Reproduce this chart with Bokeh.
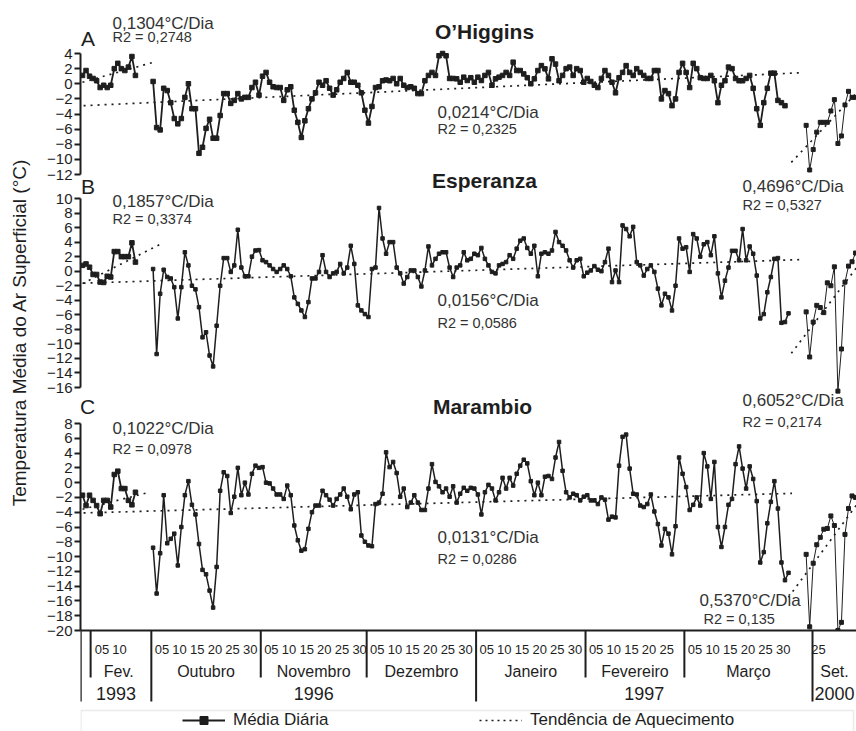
from bokeh.plotting import figure
from bokeh.models import (Range1d, LinearAxis, FixedTicker, Label, GridBox,
                          Legend, LegendItem, BoxAnnotation)
from bokeh.embed import file_html
from bokeh.resources import INLINE
from bokeh.core.properties import value

# ------------------------------------------------------------------ data
stations = ["O\u2019Higgins", "Esperanza", "Marambio"]
panel_letters = ["A", "B", "C"]

# day slots: 0..15 -> end Jan / Feb 1993 ; 20.. -> 1 Oct 1996 ... Mar 1997 ; 205..219 -> Sep/Oct 2000
first_slot_1993 = 0
first_slot_9697 = 20
first_slot_2000 = 205

ohiggins_1993 = [1.1, 1.75, 1.0, 0.7, 0.4, -0.5, -0.2, -0.5, -0.2, 2.0, 2.7, 2.0, 1.75, 2.2, 3.6, 1.1]
ohiggins_9697 = [
    0.3, -5.8, -6.1, -0.6, -0.9, -2.5, -4.6, -5.3, -4.6, -1.8, 0.0, -3.3, -3.3, -9.2, -8.4, -5.9,
    -4.7, -7.2, -7.2, -4.2, -1.3, -1.3, -2.6, -2.2, -1.3, -2.0, -1.8, -1.8, -0.5, 0.2, -1.5,
    1.0, 1.5, 0.2, -0.4, -0.5, -0.5, -2.2, -0.8, -0.4, -3.5, -5.1, -7.1, -4.9, -3.3, -2.0, -1.2,
    0.2, -0.2, 0.4, -0.6, -1.5, -0.8, 0.2, 0.7, 1.5, 0.2, 0.2, -0.2, -1.2, -3.5,
    -5.2, -3.0, -0.5, -0.4, 0.4, 0.5, 0.4, 0.7, 0.0, 0.7, -0.2, -0.5, -0.4, -0.6, -1.3, -1.3,
    0.4, 1.1, 1.5, 1.1, 3.7, 4.0, 3.7, 0.7, 0.7,
    0.65, 0.2, 0.87, 0.43, 0.8, 0.2, 0.87, 0.43, 1.1, 1.5, -0.2, 0.65, 0.87, 1.1, 1.5, 1.1,
    2.85, 1.75, 1.75, 1.3, 0.8, 0.0, 0.65, 1.75, 2.4, 1.97, 0.65, 3.3, 2.6,
    0.4, 1.1, 2.0, 2.2, 1.1, 2.0, 1.75, 0.2, 0.7, 0.3, -0.2, -0.5, 0.7, 1.75, 1.1, 0.2, -1.2,
    0.8, 1.5, 2.4, 1.5, 1.1, 2.0, 1.5, 1.1, 0.7, 0.7, 1.75, 1.75, -2.0, -0.9, -1.3, -2.9, -2.0,
    1.5, 2.7, 1.5, -0.5, 2.7, 2.0, 0.8, 0.7, 0.7, 1.1, 0.4, -2.5, -0.2, 0.4, 2.2, 2.0, 0.7,
    0.4, 0.4, 0.7, 1.1, -0.6, -3.3, -5.5, -2.5, -0.6, 1.4, 1.4, -2.2, -2.5, -2.9]
ohiggins_2000 = [-5.5, -11.4, -8.7, -6.4, -5.1, -5.1, -5.1, -3.6, -2.1, -7.9, -6.9, -2.8, -1.0, -1.8, -1.8]

esperanza_1993 = [0.8, 1.0, 0.55, -0.45, -0.45, -1.5, -1.55, -0.7, -0.8, 2.7, 2.7, 2.0, 2.0, 2.0, 3.9, 1.25]
esperanza_9697 = [
    0.3, -11.4, -3.1, 0.2, -0.8, -1.0, -2.2, -6.5, -2.2, 2.6, 0.8, -2.0, -2.5, -4.95, -9.1, -8.4,
    -11.6, -13.1, -7.5, -2.0, 1.8, 1.8, -0.1, 0.8, 5.7, 0.5, -0.7, -0.7, 2.0, 2.85, 2.9, 1.5,
    1.25, 0.8, 0.3, -0.1, 0.3, 0.8, 0.3, -0.7, -3.6, -4.5,
    -5.4, -6.3, -4.25, -1.0, -1.0, -0.1, 2.2, -0.1, -0.8, -0.3, -0.1, 1.0, -0.3, 0.5, 3.5, 1.0,
    -4.7, -5.4, -5.9, -6.3, 0.3, 0.5, 8.7, 4.5, 2.4, 4.0, 4.0, 0.5, -0.3, -1.7, -0.8, 0.1, 0.1,
    -0.8, -2.1, 0.1, 3.4, 0.8, 1.7, 2.4, 2.6, 2.6, 0.5, -0.8, 0.5, 0.8, 2.6, 1.5, 1.7, 2.4, 2.2,
    3.2, 1.7, 0.8, -0.1, -0.3, 0.8, 1.0, 1.25, 2.2, 1.7, 3.1, 4.2, 4.5, 3.2, 2.4, 3.5, -0.7, 2.4,
    2.6, 2.4, 2.85, 5.4, 4.0, 3.5, 2.85, 1.5, 0.5, 1.5, 1.7,
    -0.7, -0.2, 0.1, 0.7, 0.2, 0.0, 1.25, 3.1, -1.5, 0.1, -1.5, 6.3, 5.8, 4.8, 6.1, 1.25, 0.8,
    -0.6, 0.3, 0.8, -0.1, -2.4, -4.7, -3.1, -3.6, -5.4, -2.0, 4.5, 3.1, 3.3, -0.1, 5.1, 4.5, 2.0,
    3.7, 4.0, 2.2, 4.8, -0.3, -3.6, -1.3, 0.5, 2.8, 2.8, 1.5, 5.8, 1.5, 3.4, 2.4, -0.6, -6.5,
    -5.9, -2.9, -0.8, 1.7, 1.8, -7.1, -7.0, -5.8]
esperanza_2000 = [-5.6, -11.8, -7.0, -4.7, -5.0, -5.7, -1.6, -2.0, 0.6, -16.5, -10.7, -1.5, 0.7, 1.3, 2.5]

marambio_1993 = [-1.7, -3.1, -1.7, -2.4, -3.1, -4.2, -2.4, -2.4, -3.3, 1.1, 1.55, -0.8, -0.8, -2.4, -3.0, -1.3]
marambio_9697 = [
    -8.8, -15.0, -9.55, -1.7, -8.2, -7.6, -6.9, -11.2, -6.0, -1.7, 0.2, -3.0, -4.3, -8.3, -11.8,
    -12.4, -14.6, -16.9, -11.4, -1.1, 1.4, 0.9, -4.1, -1.9, 2.0, -1.7, 0.0, -1.6, 1.2, 2.3, 2.0,
    2.1, 0.0, -0.1, -0.8, -1.6, -1.6, -2.2, -0.4, -1.7, -5.8, -7.8,
    -9.2, -9.0, -6.25, -4.0, -3.1, -3.1, -1.1, -1.7, -2.3, -3.1, -2.2, -1.6, -0.8, -1.9, -3.6,
    -1.6, -1.3, -7.15, -8.0, -8.5, -8.6, -2.9, -2.7, -1.5, 4.1, 2.1, 2.8, 1.3, -1.9, -0.8, -3.3,
    -2.7, -1.7, -2.7, -3.7, -3.7, -0.8, 2.5, 0.1, -0.5, -1.3, -0.8, -1.9, -0.5, -2.7, -1.5, -0.7,
    -1.1, -0.7, -0.8, -1.6, -4.3, -1.3, -0.3, -0.8, -2.4, -1.3, 0.65, -0.8, 0.65, -0.4, 1.2, 2.3,
    3.1, 2.6, 0.2, -1.7, 0.0, -1.7, 0.8, 0.9, 0.5, 3.4, 5.5, 1.6,
    -1.3, -2.0, -1.5, -1.7, -2.4, -1.9, -1.7, -2.4, -2.4, -2.9, -2.0, -2.3, -5.0, -4.6, -4.7, 2.3,
    6.2, 6.5, 1.9, -1.5, -1.6, -3.1, -3.3, -2.9, -1.6, -3.9, -5.6, -8.5, -6.25, -6.9, -9.7, -5.9,
    3.4, 1.2, -0.6, -3.7, -3.0, -2.0, -3.1, 4.0, 2.2, -2.2, 2.8, -6.0, -8.7, -6.0, -3.0, -2.2,
    2.5, 4.9, 1.9, -0.8, 2.2, 0.5, -2.5, -10.8, -9.4, -5.5, -2.6, 0.2, -3.5, -10.8, -13.2, -12.2]
marambio_2000 = [-9.7, -19.5, -10.9, -8.4, -7.4, -6.3, -6.2, -4.5, -5.8, -20.0, -18.9, -7.0, -3.5, -1.8, -2.0]

# warming-trend lines (start/end slot, start/end value) for 1993, 1996/97, 2000
ohiggins_trend_x = [[0, 19.8], [0.3, 203.4], [200.8, 219.3]]
ohiggins_trend_y = [[0.2, 2.8], [-2.9, 1.45], [-10.4, -1.2]]
esperanza_trend_x = [[0, 22], [0.3, 204], [200.8, 219.3]]
esperanza_trend_y = [[-1.7, 3.7], [-1.65, 1.6], [-11.3, 0.5]]
marambio_trend_x = [[0, 19], [0.3, 201], [200, 219.3]]
marambio_trend_y = [[-3.6, -1.3], [-4.1, -1.45], [-15.5, -3.0]]

ohiggins_slopes = ["0,1304\u00b0C/Dia", "0,0214\u00b0C/Dia", "0,4696\u00b0C/Dia"]
ohiggins_r2 = ["R2 = 0,2748", "R2 = 0,2325", "R2 = 0,5327"]
esperanza_slopes = ["0,1857\u00b0C/Dia", "0,0156\u00b0C/Dia", "0,6052\u00b0C/Dia"]
esperanza_r2 = ["R2 = 0,3374", "R2 = 0,0586", "R2 = 0,2174"]
marambio_slopes = ["0,1022\u00b0C/Dia", "0,0131\u00b0C/Dia", "0,5370\u00b0C/Dia"]
marambio_r2 = ["R2 = 0,0978", "R2 = 0,0286", "R2 = 0,135"]

# x-axis categories
month_names = ["Fev.", "Outubro", "Novembro", "Dezembro", "Janeiro", "Fevereiro", "Mar\u00e7o", "Set."]
month_first_day_slot = [3, 20, 51, 81, 112, 143, 171, 186]
month_tick_days = [[5, 10], [5, 10, 15, 20, 25, 30], [5, 10, 15, 20, 25, 30], [5, 10, 15, 20, 25, 30],
                   [5, 10, 15, 20, 25, 30], [5, 10, 15, 20, 25], [5, 10, 15, 20, 25, 30], [25]]
month_edges = [2.3, 19.5, 50.5, 80.5, 111.5, 142.5, 170.5, 206.8]
year_names = ["1993", "1996", "1997", "2000"]
year_edges = [-0.5, 19.5, 111.5, 206.8]

y_label = "Temperatura M\u00e9dia do Ar Superficial (\u00b0C)"
legend_labels = ["M\u00e9dia Di\u00e1ria", "Tend\u00eancia de Aquecimento"]

# ------------------------------------------------------------------ layout
W, H = 856, 731
FONT = "Liberation Sans"
INK = "#1e1e1e"
X0_PX, PX_PER_DAY = 82.0, 3.53
FRAME_L, FRAME_R = 80, 856


def slot_of(px):
    return (px - X0_PX) / PX_PER_DAY


xr = Range1d(slot_of(FRAME_L), slot_of(FRAME_R))

geo = [  # value top/bottom of axis, pixel rows of axis ends, frame rows
    dict(vt=4, vb=-12, pt=53, pb=174, ft=5, fb=215),
    dict(vt=10, vb=-16, pt=198, pb=387, ft=134, fb=530),
    dict(vt=8, vb=-20, pt=423, pb=630, ft=380, fb=630),
]

text_pos = [  # letter, slope/r2 texts (3 each), title
    dict(letter=(87.5, 37.5), title=(484, 31), s=[(112, 22.5), (437, 111.5), (742, 186)],
         r=[(112, 36.5), (437, 128.5), (742, 204)]),
    dict(letter=(87.5, 185.5), title=(484, 180), s=[(112, 200.5), (437, 299.5), (742, 400)],
         r=[(112, 218), (437, 322.5), (742, 421)]),
    dict(letter=(87, 405.5), title=(482, 405.5), s=[(112, 427.5), (437, 536.5), (699, 600)],
         r=[(112, 448), (437, 558.5), (703, 618)]),
]


def scale(g):
    return (g["pb"] - g["pt"]) / (g["vt"] - g["vb"])


def val_of(g, py):
    return g["vt"] - (py - g["pt"]) / scale(g)


def base_fig(yr, ft, fb):
    p = figure(width=W, height=H, x_range=xr, y_range=yr, output_backend="svg",
               toolbar_location=None, x_axis_location=None, y_axis_location=None, title=None,
               min_border_left=FRAME_L, min_border_right=W - FRAME_R,
               min_border_top=ft, min_border_bottom=H - fb, frame_align=False,
               background_fill_color=None, border_fill_color=None, outline_line_color=None)
    p.grid.visible = False
    return p


series = [
    (ohiggins_1993, ohiggins_9697, ohiggins_2000, ohiggins_trend_x, ohiggins_trend_y,
     ohiggins_slopes, ohiggins_r2),
    (esperanza_1993, esperanza_9697, esperanza_2000, esperanza_trend_x, esperanza_trend_y,
     esperanza_slopes, esperanza_r2),
    (marambio_1993, marambio_9697, marambio_2000, marambio_trend_x, marambio_trend_y,
     marambio_slopes, marambio_r2),
]

figs = []
for i, (g, (d93, d96, d00, tx, ty, slopes, r2s)) in enumerate(zip(geo, series)):
    s = scale(g)
    yr = Range1d(g["vb"] - (g["fb"] - g["pb"]) / s, g["vt"] + (g["pt"] - g["ft"]) / s)
    p = base_fig(yr, g["ft"], g["fb"])

    ax = LinearAxis(ticker=FixedTicker(ticks=list(range(g["vb"], g["vt"] + 1, 2))),
                    bounds=(g["vb"], g["vt"]), axis_line_width=2, axis_line_color=INK,
                    major_tick_in=0, major_tick_out=6, major_tick_line_width=2,
                    major_tick_line_color=INK, minor_tick_line_color=None,
                    major_label_standoff=2, major_label_text_font=FONT,
                    major_label_text_font_size="15px", major_label_text_color=INK)
    p.add_layout(ax, "left")
    if i == 2:
        xax = LinearAxis(ticker=FixedTicker(ticks=[]), axis_line_width=2, axis_line_color=INK,
                         major_tick_line_color=None, minor_tick_line_color=None,
                         major_label_text_font_size="0px")
        p.add_layout(xax, "below")

    for (xs, ys) in zip(tx, ty):
        p.line(xs, ys, line_color=INK, line_width=1.7, line_dash="2 5")

    for data, first, lw, ms in ((d93, first_slot_1993, 1.8, 4.5),
                                (d96, first_slot_9697, 1.8 if i == 0 else 1.5, 4.5 if i == 0 else 3.5),
                                (d00, first_slot_2000, 1.0, 4)):
        xs = list(range(first, first + len(data)))
        p.line(xs, data, line_color=INK, line_width=lw)
        p.scatter(xs, data, marker="square", size=ms, color=INK)

    tp = text_pos[i]
    p.add_layout(Label(x=slot_of(tp["letter"][0]), y=val_of(g, tp["letter"][1]), text=panel_letters[i],
                       text_font=FONT, text_font_size="21px", text_color=INK,
                       text_align="center", text_baseline="middle"))
    p.add_layout(Label(x=slot_of(tp["title"][0]), y=val_of(g, tp["title"][1]), text=stations[i],
                       text_font=FONT, text_font_size="21px", text_font_style="bold",
                       text_color=INK, text_align="center", text_baseline="middle"))
    for k in range(3):
        sx, sy = tp["s"][k]
        rx, ry = tp["r"][k]
        p.add_layout(Label(x=slot_of(sx), y=val_of(g, sy), text=slopes[k], text_font=FONT,
                           text_font_size="17px", text_color="#333333", text_align="left",
                           text_baseline="middle"))
        p.add_layout(Label(x=slot_of(rx), y=val_of(g, ry), text=r2s[k], text_font=FONT,
                           text_font_size="14.5px", text_color="#333333", text_align="left",
                           text_baseline="middle"))
    figs.append(p)

# y-axis title (centred on the three panels)
pl = base_fig(Range1d(0, 1), 134, 530)
lab_ax = LinearAxis(ticker=FixedTicker(ticks=[]), axis_line_color=None, major_tick_out=0,
                    major_tick_in=0, minor_tick_line_color=None, major_label_text_font_size="0px",
                    axis_label=y_label, axis_label_text_font=FONT, axis_label_text_font_size="19px",
                    axis_label_text_font_style="normal", axis_label_text_color=INK,
                    axis_label_standoff=51)
pl.add_layout(lab_ax, "left")

# bottom: category axis + legend
pb = base_fig(Range1d(101, 0), 630, 731)
pb.segment(x0=year_edges, y0=0, x1=year_edges, y1=71, line_color=INK, line_width=2)
inner_edges = [e for e in month_edges if e not in year_edges]
pb.segment(x0=inner_edges, y0=0, x1=inner_edges, y1=47, line_color=INK, line_width=2)

day_x, day_t = [], []
for first, days in zip(month_first_day_slot, month_tick_days):
    for d in days:
        day_x.append(first + d - 1 - 1.5)
        day_t.append("%02d" % d)
pb.text(x=day_x, y=19, text=day_t, text_font=value(FONT), text_font_size="13px",
        text_color=INK, text_align="center", text_baseline="middle")

x_end = xr.end
m_left = [year_edges[0] + 1.5] + month_edges[1:]
m_right = month_edges[1:] + [x_end]
m_center = [(a + b) / 2 for a, b in zip(m_left, m_right)]
pb.text(x=m_center, y=41, text=month_names, text_font=value(FONT), text_font_size="16px",
        text_color=INK, text_align="center", text_baseline="middle")
y_right = year_edges[1:] + [x_end]
y_center = [(a + b) / 2 for a, b in zip(year_edges, y_right)]
pb.text(x=y_center, y=63, text=year_names, text_font=value(FONT), text_font_size="18px",
        text_color=INK, text_align="center", text_baseline="middle")

pb.add_layout(BoxAnnotation(left=slot_of(80.5), right=slot_of(853), top=80, bottom=130,
                            fill_alpha=0, line_color="#bbbbbb", line_width=1.5))
nan = float("nan")
r_line = pb.line(x=[nan], y=[nan], line_color=INK, line_width=2)
r_sq = pb.scatter(x=[nan], y=[nan], marker="square", size=6, color=INK)
r_tr = pb.line(x=[nan], y=[nan], line_color=INK, line_width=1.7, line_dash="2 4")
legend = Legend(items=[LegendItem(label=legend_labels[0], renderers=[r_line, r_sq]),
                       LegendItem(label=legend_labels[1], renderers=[r_tr])],
                orientation="horizontal", location=(102, 1), padding=0, margin=0, spacing=0,
                glyph_width=43, glyph_height=20, label_width=246, label_height=20,
                label_standoff=8, label_text_font=FONT, label_text_font_size="17px",
                label_text_color=INK, border_line_color=None, background_fill_alpha=0)
pb.add_layout(legend)

p = GridBox(children=[(figs[0], 0, 0), (figs[1], 0, 0), (figs[2], 0, 0), (pl, 0, 0), (pb, 0, 0)],
            spacing=0)

open("out.html", "w").write(file_html(p, INLINE))
